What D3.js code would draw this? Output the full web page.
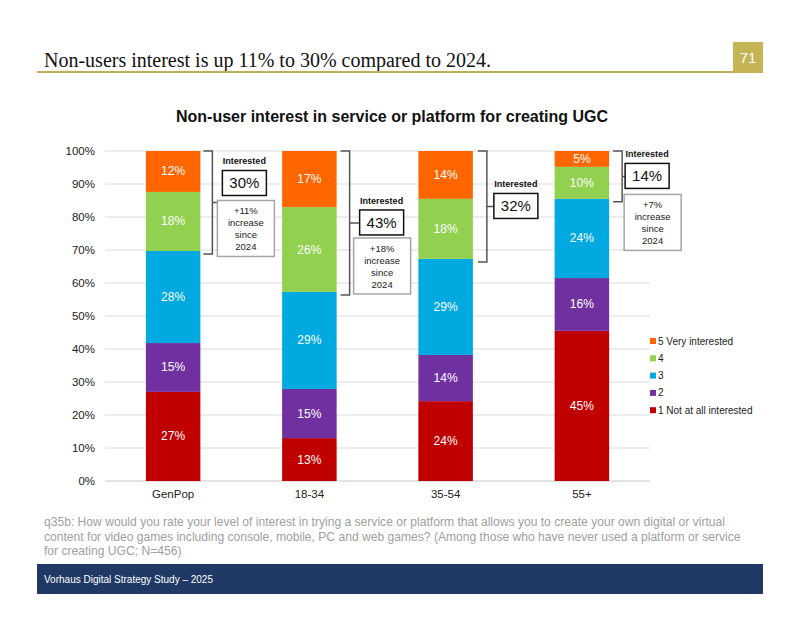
<!DOCTYPE html>
<html>
<head>
<meta charset="utf-8">
<script src="https://cdn.jsdelivr.net/npm/d3@7"></script>
<style>
  body { margin: 0; background: #fff; }
  svg { font-family: "Liberation Sans", Arial, sans-serif; }
</style>
</head>
<body>
<svg width="800" height="618"></svg>
<script>
// categories and series (segment shares, bottom to top)
var groups = ["GenPop", "18-34", "35-54", "55+"];
var levels = ["1 Not at all interested", "2", "3", "4", "5 Very interested"];
var notAtAll = [27.0, 13.0, 24.2, 45.5];
var two = [14.8, 14.9, 14.0, 16.0];
var three = [27.9, 29.4, 29.1, 24.0];
var four = [17.9, 25.7, 18.2, 9.7];
var veryInt = [12.4, 17.0, 14.5, 4.8];
var shownLabels = [
  [27, 13, 24, 45],
  [15, 15, 14, 16],
  [28, 29, 29, 24],
  [18, 26, 18, 10],
  [12, 17, 14, 5]
];
var interested = [30, 43, 32, 14];
var increase = ["+11%", "+18%", null, "+7%"];
var yTicks = [0, 10, 20, 30, 40, 50, 60, 70, 80, 90, 100];

var colors = ["#C00000", "#7030A0", "#00A9E0", "#92D050", "#FF6600"];

var svg = d3.select("svg");

// page header
svg.append("text")
    .attr("x", 44).attr("y", 67)
    .style("font-family", "'Liberation Serif', 'DejaVu Serif', serif")
    .style("font-size", "20px")
    .attr("fill", "#111")
    .text("Non-users interest is up 11% to 30% compared to 2024.");
svg.append("line")
    .attr("x1", 37).attr("x2", 733).attr("y1", 72).attr("y2", 72)
    .attr("stroke", "#BFB15A").attr("stroke-width", 2);
svg.append("rect")
    .attr("x", 733).attr("y", 42).attr("width", 30).attr("height", 31)
    .attr("fill", "#C4B456");
svg.append("text")
    .attr("x", 748).attr("y", 63).attr("text-anchor", "middle")
    .style("font-size", "15px").attr("fill", "#fff").text("71");

// chart title
svg.append("text")
    .attr("x", 392).attr("y", 122).attr("text-anchor", "middle")
    .style("font-size", "16px").style("font-weight", "bold").attr("fill", "#111")
    .text("Non-user interest in service or platform for creating UGC");

var x = d3.scaleBand().domain(groups).range([105, 650]).paddingInner(0.6).paddingOuter(0.3);
var y = d3.scaleLinear().domain([0, 100]).range([481, 151]);

// gridlines and y axis
var g = svg.append("g");
g.selectAll(".grid").data(yTicks).enter().append("line")
    .attr("x1", 105).attr("x2", 650)
    .attr("y1", function (d) { return y(d); })
    .attr("y2", function (d) { return y(d); })
    .attr("stroke", function (d) { return d === 0 ? "#c8c8c8" : "#dcdcdc"; })
    .attr("stroke-width", 1);

var yAxis = d3.axisLeft(y).tickValues(yTicks).tickSize(0).tickPadding(0)
    .tickFormat(function (d) { return d + "%"; });
var gy = g.append("g").attr("transform", "translate(95,0)").call(yAxis);
gy.select(".domain").remove();
gy.selectAll("text").style("font-size", "11.5px").attr("fill", "#222")
    .style("font-family", "'Liberation Sans', Arial, sans-serif");

var xAxis = d3.axisBottom(x).tickSize(0).tickPadding(0);
var gx = g.append("g").attr("transform", "translate(0,490)").call(xAxis);
gx.select(".domain").remove();
gx.selectAll("text").style("font-size", "11.5px").attr("fill", "#222")
    .style("font-family", "'Liberation Sans', Arial, sans-serif");

// stacked bars
var table = groups.map(function (gname, i) {
    return { group: gname, a: notAtAll[i], b: two[i], c: three[i], d: four[i], e: veryInt[i] };
});
var keys = ["a", "b", "c", "d", "e"];
var stack = d3.stack().keys(keys)(table);

var layer = g.selectAll(".layer").data(stack).enter().append("g")
    .attr("fill", function (d, i) { return colors[i]; });

layer.selectAll("rect").data(function (d) { return d; }).enter().append("rect")
    .attr("x", function (d) { return x(d.data.group); })
    .attr("width", x.bandwidth())
    .attr("y", function (d) { return y(d[1]); })
    .attr("height", function (d) { return y(d[0]) - y(d[1]); });

layer.each(function (s, li) {
    d3.select(this).selectAll("text").data(s).enter().append("text")
        .attr("x", function (d) { return x(d.data.group) + x.bandwidth() / 2; })
        .attr("y", function (d) { return (y(d[0]) + y(d[1])) / 2 + 4; })
        .attr("text-anchor", "middle")
        .style("font-size", "12px")
        .attr("fill", "#fff")
        .text(function (d, i) { return shownLabels[li][i] + "%"; });
});

// legend
var legend = g.selectAll(".legend").data(levels.slice().reverse()).enter().append("g")
    .attr("transform", function (d, i) { return "translate(650," + (341 + i * 17.3) + ")"; });
legend.append("rect").attr("x", 0).attr("y", -3).attr("width", 6).attr("height", 6)
    .attr("fill", function (d, i) { return colors[4 - i]; });
legend.append("text").attr("x", 8).attr("y", 3.5)
    .style("font-size", "10px").attr("fill", "#222")
    .text(function (d) { return d; });

// "Interested" brackets and call-outs
var ann = [
    { bx: 12, boxDx: 22, boxDy: -32, incDx: 17, incDy: -2 },
    { bx: 13, boxDx: 23, boxDy: -13, incDx: 17, incDy: 15 },
    { bx: 14, boxDx: 21, boxDy: -13, incDx: 0, incDy: 0 },
    { bx: 13, boxDx: 16, boxDy: -13, incDx: 15, incDy: 18 }
];

groups.forEach(function (gname, i) {
    var right = x(gname) + x.bandwidth();
    var top = y(100);
    var bot = y(notAtAll[i] + two[i] + three[i]) + 3;
    var bx = right + ann[i].bx;
    var mid = (top + bot) / 2;
    var a = g.append("g");
    a.append("path")
        .attr("d", "M" + (bx - 9) + "," + top + "H" + bx + "V" + bot + "H" + (bx - 9) +
            "M" + bx + "," + mid + "H" + (right + ann[i].boxDx))
        .attr("fill", "none").attr("stroke", "#555").attr("stroke-width", 1.5);

    var boxX = right + ann[i].boxDx, boxY = mid + ann[i].boxDy;
    a.append("text").attr("x", boxX + 22).attr("y", boxY - 6)
        .attr("text-anchor", "middle").style("font-size", "9px").style("font-weight", "bold")
        .attr("fill", "#111").text("Interested");
    a.append("rect").attr("x", boxX).attr("y", boxY).attr("width", 44).attr("height", 25)
        .attr("fill", "#fff").attr("stroke", "#111").attr("stroke-width", 1.5);
    a.append("text").attr("x", boxX + 22).attr("y", boxY + 18)
        .attr("text-anchor", "middle").style("font-size", "15px").attr("fill", "#111")
        .text(interested[i] + "%");

    if (increase[i]) {
        var ix = right + ann[i].incDx, iy = mid + ann[i].incDy;
        a.append("rect").attr("x", ix).attr("y", iy).attr("width", 57).attr("height", 56)
            .attr("fill", "#fff").attr("stroke", "#a6a6a6").attr("stroke-width", 1.5);
        [increase[i], "increase", "since", "2024"].forEach(function (t, k) {
            a.append("text").attr("x", ix + 28.5).attr("y", iy + 14 + k * 12)
                .attr("text-anchor", "middle").style("font-size", "9.5px").attr("fill", "#222")
                .text(t);
        });
    }
});

// question note
var note = [
    "q35b: How would you rate your level of interest in trying a service or platform that allows you to create your own digital or virtual",
    "content for video games including console, mobile, PC and web games? (Among those who have never used a platform or service",
    "for creating UGC; N=456)"
];
svg.selectAll(".note").data(note).enter().append("text")
    .attr("x", 44).attr("y", function (d, i) { return 526 + i * 14.5; })
    .style("font-size", "12.1px").attr("fill", "#a0a0a0")
    .text(function (d) { return d; });

// footer band
svg.append("rect").attr("x", 37).attr("y", 564).attr("width", 726).attr("height", 30)
    .attr("fill", "#1F3864");
svg.append("text").attr("x", 44).attr("y", 583)
    .style("font-size", "10px").attr("fill", "#fff")
    .text("Vorhaus Digital Strategy Study \u2013 2025");
</script>
</body>
</html>
